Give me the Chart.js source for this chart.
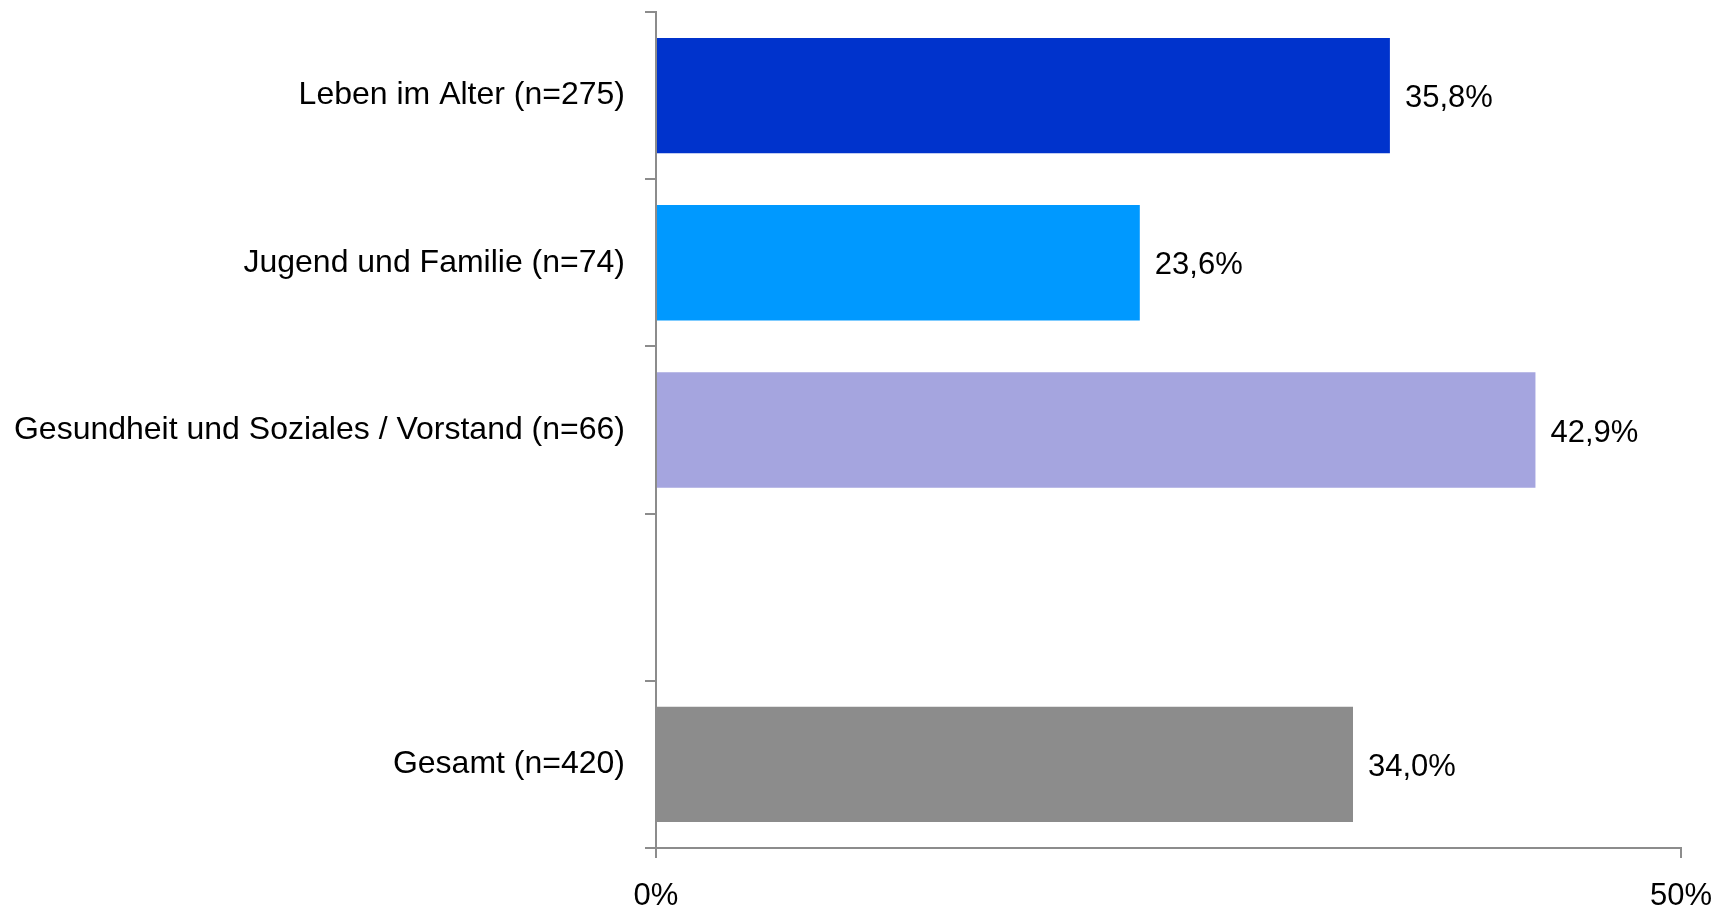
<!DOCTYPE html>
<html>
<head>
<meta charset="utf-8">
<script src="https://cdn.jsdelivr.net/npm/chart.js"></script>
<style>
  html, body { margin: 0; padding: 0; background: #fff; overflow: hidden; }
  #chart { display: block; }
</style>
</head>
<body>
<canvas id="chart" width="1720" height="908"></canvas>
<script>
// Kategorien (leerer Eintrag = Abstand vor "Gesamt")
const categories = [
  "Leben im Alter (n=275)",
  "Jugend und Familie (n=74)",
  "Gesundheit und Soziales / Vorstand (n=66)",
  "",
  "Gesamt (n=420)",
];
const values = [35.8, 23.6, 42.9, null, 34.0];
const barColors = ["#0033CC", "#0099FF", "#A5A5DF", "#FFFFFF", "#8C8C8C"];
const xTicks = [0, 50];

const FONT = "'Liberation Sans', Arial, sans-serif";
const AXIS = "#8C8C8C";

// Werte rechts neben den Balken
const valueLabels = {
  id: "valueLabels",
  afterDatasetsDraw(chart) {
    const ctx = chart.ctx;
    const meta = chart.getDatasetMeta(0);
    ctx.save();
    ctx.font = "31px " + FONT;
    ctx.fillStyle = "#000";
    ctx.textAlign = "left";
    ctx.textBaseline = "middle";
    meta.data.forEach((bar, i) => {
      const v = values[i];
      if (v === null || v === undefined) return;
      const txt = v.toFixed(1).replace(".", ",") + "%";
      ctx.fillText(txt, bar.x + 15, bar.y + 3);
    });
    ctx.restore();
  },
};

document.addEventListener("DOMContentLoaded", function () {
  if (!window.Chart) return;
  new Chart(document.getElementById("chart"), {
    type: "bar",
    data: {
      labels: categories,
      datasets: [
        {
          data: values,
          backgroundColor: barColors,
          borderWidth: 0,
          categoryPercentage: 0.69,
          barPercentage: 1,
        },
      ],
    },
    options: {
      indexAxis: "y",
      responsive: false,
      animation: false,
      devicePixelRatio: 1,
      layout: { padding: { left: 0, right: 39, top: 12, bottom: 0 } },
      plugins: { legend: { display: false }, tooltip: { enabled: false } },
      scales: {
        x: {
          min: 0,
          max: 50,
          afterBuildTicks: (scale) => {
            scale.ticks = xTicks.map((v) => ({ value: v }));
          },
          afterFit: (scale) => {
            scale.height = 60;
            scale.paddingLeft = 0;
            scale.paddingRight = 0;
          },
          grid: {
            drawOnChartArea: false,
            drawTicks: true,
            tickLength: 10,
            color: AXIS,
            lineWidth: 2,
          },
          border: { color: AXIS, width: 2 },
          ticks: {
            color: "#000",
            font: { family: FONT, size: 31 },
            padding: 20,
            maxRotation: 0,
            callback: (v) => v + "%",
          },
        },
        y: {
          afterFit: (scale) => {
            scale.width = 656;
            scale.paddingTop = 0;
            scale.paddingBottom = 0;
          },
          grid: {
            offset: true,
            drawOnChartArea: false,
            drawTicks: true,
            tickLength: 11,
            color: AXIS,
            lineWidth: 2,
          },
          border: { color: AXIS, width: 2 },
          ticks: {
            color: "#000",
            font: { family: FONT, size: 32 },
            padding: 20,
          },
        },
      },
    },
    plugins: [valueLabels],
  });
});
</script>
</body>
</html>
